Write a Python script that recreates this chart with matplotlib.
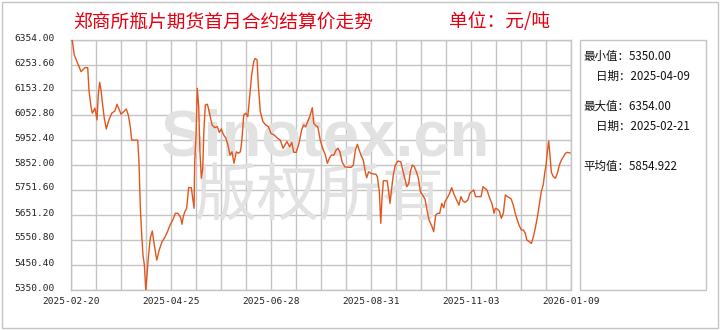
import matplotlib
matplotlib.use("Agg")
import matplotlib.pyplot as plt
from matplotlib.patches import Rectangle
from matplotlib.transforms import ScaledTranslation

# days since 2025-02-20
days = [
    0.0, 0.8, 2.1, 4.3, 6.5, 9.0, 10.8, 11.6, 12.9, 13.8,
    15.5, 16.8, 17.6, 18.5, 19.4, 20.2, 21.5, 22.8, 24.5, 26.3,
    28.4, 29.7, 31.0, 32.3, 34.0, 35.7, 37.0, 38.3, 39.2, 41.3,
    43.1, 43.9, 44.8, 45.7, 46.5, 47.4, 48.3, 49.1, 49.9, 51.2,
    52.5, 53.8,
    55.4, 57.0, 58.8, 60.5, 62.2, 64.0, 65.7, 67.4, 69.1, 70.9,
    71.7, 72.5, 73.5, 74.7, 76.0, 77.7, 78.6, 79.5, 79.9, 80.8,
    81.6, 82.5, 83.3, 84.2, 85.1, 85.9, 86.8, 88.1, 89.3, 91.1,
    92.8, 94.5, 95.8, 97.1, 98.4, 100.1, 101.4, 102.7, 104.0, 105.3,
    106.8, 108.1, 109.4,
    110.3, 111.6, 112.9, 114.2, 115.5, 116.7, 118.0, 118.9, 120.2, 121.0,
    122.3, 124.0, 125.8, 127.5, 129.2, 131.3, 133.5, 135.2, 137.0, 138.2,
    139.5, 141.3, 142.6, 143.9, 145.5, 147.3, 149.0, 150.3, 151.6, 152.9,
    154.2, 155.9, 156.8, 158.1, 159.4, 161.0,
    162.6, 164.3, 165.6, 166.9, 168.2, 169.9, 171.2, 172.5, 173.8, 175.1,
    176.8, 178.9, 181.1, 182.4, 183.7, 185.0, 186.2, 187.5, 188.8, 190.1,
    191.0, 192.3, 193.6, 195.3, 197.0, 197.9, 199.2, 200.1, 200.9, 201.8,
    203.1, 204.3, 205.2, 206.1, 206.9, 208.2, 209.5, 211.2, 213.0, 214.3,
    215.6, 216.9, 218.2,
    219.2, 220.5, 221.8, 223.1, 224.4, 225.7, 227.0, 228.7, 230.0, 231.3,
    233.0, 234.3, 235.6, 236.9, 238.2, 239.5, 240.8, 241.6, 242.9, 244.6,
    245.9, 247.6, 249.4, 250.6, 251.9, 253.2, 254.5, 256.3, 257.6, 258.9,
    260.1, 261.4, 263.1, 264.9, 266.2, 267.4, 268.7, 270.5,
    271.9, 273.3, 274.1, 275.4, 276.7, 278.0, 279.3, 280.6, 281.9, 283.1,
    284.4, 285.7, 287.0, 288.3, 289.6, 290.9, 292.2, 293.5, 294.4, 296.1,
    297.4, 298.7, 299.9, 301.2, 302.5, 303.8, 305.1, 306.0, 306.9, 307.7,
    308.6, 309.4, 310.3, 311.6, 312.9, 314.2, 315.5, 316.8, 318.1, 319.4,
    320.7, 322.4,
]
prices = [
    6354, 6354, 6294, 6260, 6227, 6243, 6243, 6153, 6086, 6060,
    6080, 6033, 6133, 6184, 6153, 6106, 6040, 5997, 6033, 6060,
    6069, 6096, 6077, 6056, 6066, 6077, 6053, 6006, 5952, 5952,
    5952, 5865, 5678, 5571, 5491, 5450, 5350, 5410, 5477, 5558,
    5587, 5531,
    5470, 5511, 5544, 5560, 5582, 5611, 5631, 5658, 5658, 5640,
    5614, 5644, 5664, 5678, 5761, 5761, 5718, 5678, 5865, 5972,
    6160, 6086, 5905, 5799, 5839, 5999, 6093, 6096, 6066, 6013,
    6002, 6006, 5983, 5997, 5975, 5959, 5932, 5892, 5905, 5859,
    5905, 5899, 5905,
    5946, 6053, 6060, 6046, 6133, 6213, 6267, 6280, 6274, 6173,
    6066, 6026, 6013, 6006, 5979, 5972, 5959, 5952, 5919, 5932,
    5946, 5925, 5943, 5903, 5903, 5939, 5993, 6013, 6006, 6026,
    6046, 6082, 6019, 6010, 6006, 5952,
    5919, 5892, 5859, 5879, 5892, 5892, 5912, 5919, 5903, 5865,
    5845, 5843, 5843, 5852, 5912, 5935, 5912, 5889, 5872, 5825,
    5801, 5825, 5819, 5816, 5815, 5805, 5745, 5618, 5718, 5789,
    5789, 5788, 5745, 5698, 5745, 5812, 5852, 5868, 5865, 5832,
    5799, 5765, 5778,
    5825, 5852, 5845, 5825, 5799, 5745, 5732, 5715, 5671, 5631,
    5608, 5584, 5651, 5658, 5658, 5698, 5680, 5705, 5718, 5738,
    5761, 5732, 5707, 5691, 5725, 5707, 5702, 5711, 5738, 5745,
    5752, 5725, 5725, 5725, 5765, 5758, 5752, 5718,
    5698, 5658, 5678, 5675, 5667, 5638, 5658, 5732, 5725, 5721,
    5715, 5691, 5658, 5631, 5608, 5591, 5591, 5578, 5551, 5544,
    5537, 5564, 5598, 5640, 5691, 5745, 5774, 5819, 5852, 5905,
    5948, 5892, 5823, 5805, 5799, 5819, 5852, 5872, 5885, 5899,
    5903, 5900,
]

y_ticks = [5350.00, 5450.40, 5550.80, 5651.20, 5751.60, 5852.00,
           5952.40, 6052.80, 6153.20, 6253.60, 6354.00]
x_tick_labels = ["2025-02-20", "2025-04-25", "2025-06-28",
                 "2025-08-31", "2025-11-03", "2026-01-09"]
x_span = 323.0

title = "郑商所瓶片期货首月合约结算价走势"
unit = "单位：元/吨"
stats = [("最小值：5350.00", 0), ("日期：2025-04-09", 1),
         ("最大值：6354.00", 0), ("日期：2025-02-21", 1),
         ("平均值：5854.922", 0)]

W, H = 720, 330
CJK = ["Noto Sans CJK SC", "DejaVu Sans"]
GRID = "#c4c4c4"


def fx(px):
    return px / W


def fy(py):
    return 1 - py / H


fig = plt.figure(figsize=(W / 100, H / 100), dpi=100)
fig.patch.set_facecolor("white")
ax = fig.add_axes([fx(71), fy(290), 500 / W, 250 / H])

ax.plot(days, prices, color="#E2561E", linewidth=1.0, zorder=3)

ax.set_xlim(0, x_span)
ax.set_ylim(y_ticks[0], y_ticks[-1])
ax.set_yticks(y_ticks)
ax.set_yticklabels([f"{v:.2f}" for v in y_ticks])
ax.set_xticks([i * x_span / 20 for i in range(21)])
ax.set_xticklabels([x_tick_labels[i // 4] if i % 4 == 0 else "" for i in range(21)])
ax.grid(True, color=GRID, linewidth=1.0)
ax.set_axisbelow(True)
for s in ax.spines.values():
    s.set_color(GRID)
    s.set_linewidth(1.0)
ax.tick_params(length=0, labelsize=6.8, colors="#222222")
ax.tick_params(axis="y", pad=12)
ax.tick_params(axis="x", pad=5)
for lab in ax.get_yticklabels() + ax.get_xticklabels():
    lab.set_family("DejaVu Sans Mono")
off = ScaledTranslation(0, 3 / 100, fig.dpi_scale_trans)
for lab in ax.get_yticklabels():
    lab.set_transform(lab.get_transform() + off)

# watermark
ax.text(fx(325), fy(155), "Sinotex.cn", transform=fig.transFigure,
        fontsize=47, fontweight="bold", family="Liberation Sans",
        color="#e2e2e2", ha="center", va="baseline", zorder=1, clip_on=False)
ax.text(fx(319), fy(198), "版权所有", transform=fig.transFigure,
        fontsize=45, family=CJK, color="#e2e2e2",
        ha="center", va="center", zorder=1, clip_on=False)

# titles
fig.text(fx(73), fy(22), title, family=CJK, fontsize=13.5,
         color="#E60012", ha="left", va="center")
fig.text(fx(449), fy(22), unit, family=CJK, fontsize=13.5,
         color="#E60012", ha="left", va="center")

# stats box
fig.add_artist(Rectangle((fx(580), fy(290)), 126 / W, 250 / H,
                         transform=fig.transFigure, fill=False,
                         edgecolor=GRID, linewidth=1.0))
for (txt, indent), ypx in zip(stats, [56, 76, 106, 126, 166]):
    fig.text(fx(583 + 13 * indent), fy(ypx), txt, family=CJK, fontsize=8.3,
             color="#111111", ha="left", va="center")

# outer frame
fig.add_artist(Rectangle((fx(2), fy(328)), 716 / W, 326 / H,
                         transform=fig.transFigure, fill=False,
                         edgecolor=GRID, linewidth=1.0))

fig.savefig("out.png", dpi=100)
